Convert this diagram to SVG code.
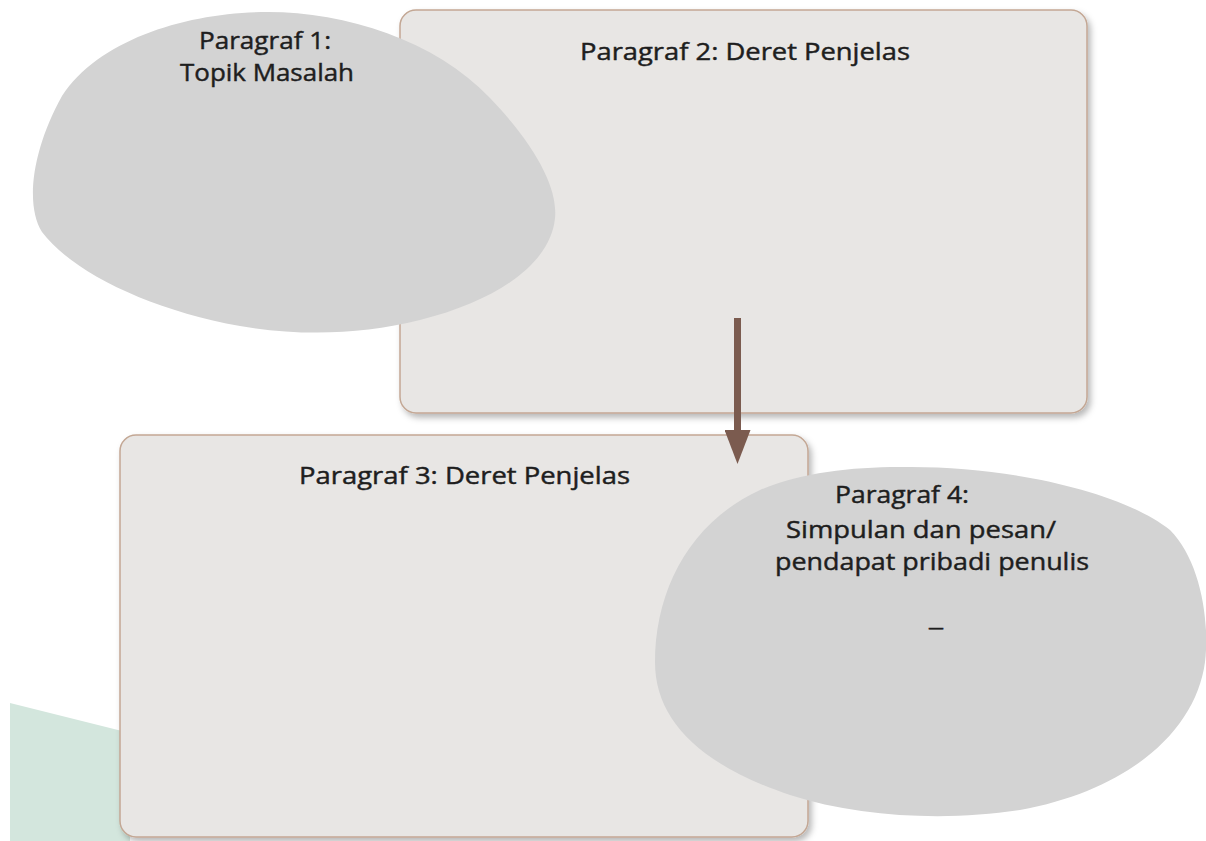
<svg xmlns="http://www.w3.org/2000/svg" width="1206" height="841" viewBox="0 0 1206 841">
<style>
.box{fill:#e8e6e4;stroke:#c3a794;stroke-width:1.5;filter:url(#sh)}
.blob{fill:#d3d3d3}
.t{font-family:"Open Sans","Liberation Sans",sans-serif;font-size:24px;fill:#1e1e1e;stroke:#1e1e1e;stroke-width:0.45}
.c{text-anchor:middle}
.conn{stroke:#7b5b4f;stroke-width:7;fill:none}
</style>
<defs>
<filter id="sh" x="-5%" y="-5%" width="115%" height="115%">
<feDropShadow dx="3" dy="4" stdDeviation="3" flood-color="#000" flood-opacity="0.28"/>
</filter>
<marker id="ah" markerUnits="userSpaceOnUse" markerWidth="34" markerHeight="26" refX="2" refY="13" orient="auto" viewBox="0 0 34 26">
<path d="M0,0 L34,13 L0,26 Z" fill="#7b5b4f"/>
</marker>
</defs>
<rect width="1206" height="841" fill="#ffffff"/>
<polygon points="10,703 130,733 130,841 10,841" fill="#d3e6dd"/>
<g id="node-p2">
<rect class="box" x="400" y="10" width="687" height="403" rx="16"/>
<text class="t" x="580" y="60" textLength="330" lengthAdjust="spacingAndGlyphs">Paragraf 2: Deret Penjelas</text>
</g>
<g id="node-p1">
<path class="blob" d="M268,12 C345,12 435,40 490,98 C538,148 558,190 555,218 C551,262 500,300 420,320 C360,335 300,336 240,326 C150,310 72,272 42,232 C25,205 32,150 62,96 C100,38 190,12 268,12 Z"/>
<text class="t c" x="265" y="49" textLength="132" lengthAdjust="spacingAndGlyphs">Paragraf 1:</text>
<text class="t c" x="267" y="81" textLength="174" lengthAdjust="spacingAndGlyphs">Topik Masalah</text>
</g>
<g id="node-p3">
<rect class="box" x="120" y="435" width="688" height="402" rx="16"/>
<text class="t" x="299" y="484" textLength="331" lengthAdjust="spacingAndGlyphs">Paragraf 3: Deret Penjelas</text>
</g>
<g id="node-p4">
<path class="blob" d="M900,467 C1000,465 1120,490 1170,530 C1200,560 1210,620 1205,662 C1196,730 1130,790 1020,810 C950,821 860,818 790,795 C700,765 655,720 655,662 C655,590 690,522 760,490 C800,473 850,467 900,467 Z"/>
<text class="t" x="835" y="503" textLength="134" lengthAdjust="spacingAndGlyphs">Paragraf 4:</text>
<text class="t" x="786" y="538" textLength="270" lengthAdjust="spacingAndGlyphs">Simpulan dan pesan/</text>
<text class="t" x="775" y="570" textLength="314" lengthAdjust="spacingAndGlyphs">pendapat pribadi penulis</text>
<text class="t c" x="936" y="626" textLength="14" lengthAdjust="spacingAndGlyphs">_</text>
</g>
<g id="connectors">
<line class="conn" x1="737.5" y1="318" x2="737.5" y2="432" marker-end="url(#ah)"/>
</g>
</svg>
